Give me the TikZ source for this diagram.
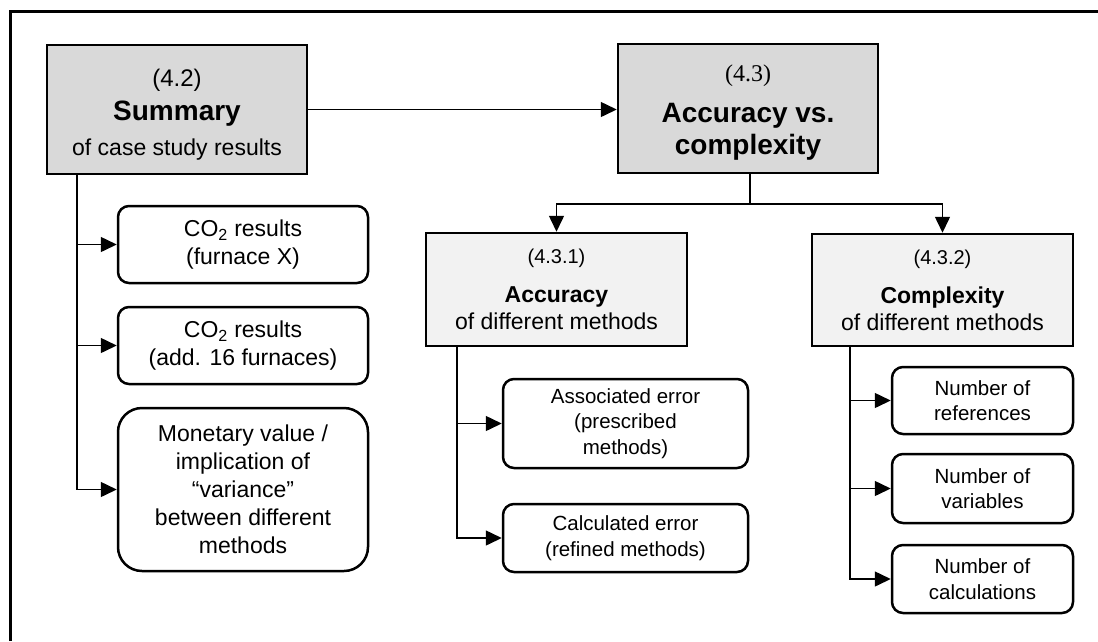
\documentclass[tikz,border=0pt]{standalone}
\usepackage{fontspec}
\setmainfont{Liberation Sans}
\newfontfamily\numserif{Liberation Serif}
\usetikzlibrary{arrows.meta}

\definecolor{topgray}{HTML}{D9D9D9}
\definecolor{subgray}{HTML}{F2F2F2}

\begin{document}
\begin{tikzpicture}
        [x=1pt, y=-1pt,
        topbox/.style={draw, line width=2.5pt, fill=topgray, align=center, inner sep=0pt},
        subbox/.style={draw, line width=2.5pt, fill=subgray, align=center, inner sep=0pt},
        leaf/.style={draw, line width=2.5pt, rounded corners=11pt, align=center, inner sep=0pt},
        conn/.style={line width=1.5pt},
        arrow/.style={conn, -{Triangle[length=16pt, width=15pt]}},
        frame/.style={line width=3pt}]

        \useasboundingbox (0,0) rectangle (1098,641);

        % top level chapters
        \node[topbox, minimum width=260pt, minimum height=129pt,
              font=\fontsize{23}{34}\selectfont] (sum) at (177, 109.5)
              {\rule{0pt}{28pt}{\fontsize{24}{34}\selectfont (4.2)}\\
               {\fontsize{28}{34}\selectfont\bfseries Summary}\\[1pt]
               of case study results};
        \node[topbox, minimum width=260pt, minimum height=129pt,
              font=\fontsize{28}{31}\selectfont\bfseries] (avc) at (748, 108.5)
              {\rule{0pt}{24pt}{\fontsize{24}{31}\selectfont\mdseries\numserif (4.3)}\\[10pt]
               Accuracy vs.\\[1pt] complexity};

        % sub sections
        \node[subbox, minimum width=261pt, minimum height=113pt,
              font=\fontsize{23}{27}\selectfont] (acc) at (556.5, 289.5)
              {{\fontsize{20}{27}\selectfont (4.3.1)}\\[12pt]
               {\bfseries Accuracy}\\ of different methods};
        \node[subbox, minimum width=261pt, minimum height=112pt,
              font=\fontsize{23}{27}\selectfont] (cpx) at (942.5, 290)
              {{\fontsize{20}{27}\selectfont (4.3.2)}\\[12pt]
               {\bfseries Complexity}\\ of different methods};

        % results of the case study
        \node[leaf, minimum width=250pt, minimum height=77pt,
              font=\fontsize{23}{28}\selectfont] (co2a) at (243, 244.5)
              {CO\textsubscript{2} results\\ (furnace X)};
        \node[leaf, minimum width=250pt, minimum height=77pt,
              font=\fontsize{23}{28}\selectfont] (co2b) at (243, 345.5)
              {CO\textsubscript{2} results\\ (add. 16 furnaces)};
        \node[leaf, rounded corners=24pt, minimum width=250pt, minimum height=163pt,
              font=\fontsize{23}{28}\selectfont] (money) at (243, 489.5)
              {Monetary value /\\ implication of\\ ``variance''\\
               between different\\ methods};

        % accuracy items
        \node[leaf, minimum width=245pt, minimum height=89pt,
              font=\fontsize{20.5}{25.5}\selectfont] (assoc) at (625.5, 423.5)
              {Associated error\\ (prescribed\\ methods)};
        \node[leaf, minimum width=245pt, minimum height=68pt,
              font=\fontsize{20.5}{25.5}\selectfont] (calcerr) at (625.5, 538)
              {Calculated error\\ (refined methods)};

        % complexity items
        \node[leaf, minimum width=181pt, minimum height=67pt,
              font=\fontsize{20.5}{25.5}\selectfont] (nref) at (982.5, 400.5)
              {Number of\\ references};
        \node[leaf, minimum width=181pt, minimum height=69pt,
              font=\fontsize{20.5}{25.5}\selectfont] (nvar) at (982.5, 488.5)
              {Number of\\ variables};
        \node[leaf, minimum width=181pt, minimum height=68pt,
              font=\fontsize{20.5}{25.5}\selectfont] (ncalc) at (982.5, 579)
              {Number of\\ calculations};

        % connectors
        \draw[arrow] (sum.east) -- (sum.east -| avc.west);

        \coordinate (fork) at (750, 204);
        \draw[conn] (avc.south -| fork) -- (fork);
        \draw[arrow] (fork) -| (acc.north);
        \draw[arrow] (fork) -| (cpx.north);

        \draw[arrow] ([xshift=31pt]sum.south west) |- (co2a.west);
        \draw[arrow] ([xshift=31pt]sum.south west) |- (co2b.west);
        \draw[arrow] ([xshift=31pt]sum.south west) |- (money.west);

        \draw[arrow] ([xshift=32pt]acc.south west) |- (assoc.west);
        \draw[arrow] ([xshift=32pt]acc.south west) |- (calcerr.west);

        \draw[arrow] ([xshift=39pt]cpx.south west) |- (nref.west);
        \draw[arrow] ([xshift=39pt]cpx.south west) |- (nvar.west);
        \draw[arrow] ([xshift=39pt]cpx.south west) |- (ncalc.west);

        % page frame, top and left side only
        \draw[frame] (10, 641) -- (10, 11) -- (1098, 11);

    \end{tikzpicture}
\end{document}
